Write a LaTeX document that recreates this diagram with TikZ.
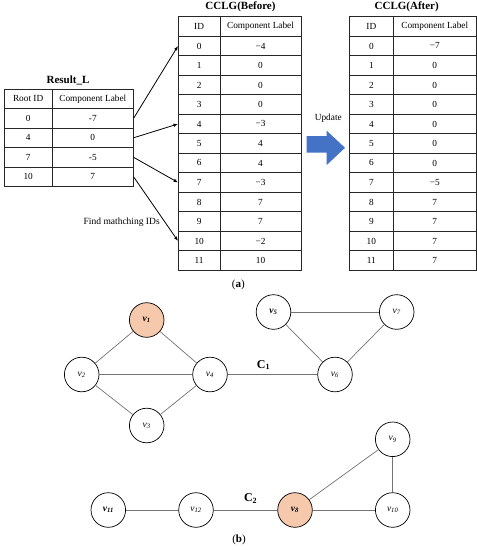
\documentclass[tikz,border=0pt]{standalone}
\usepackage{fontspec}
\setmainfont{Liberation Serif}
\usepackage{tikz}
\usetikzlibrary{arrows.meta,positioning}

\definecolor{peach}{RGB}{246,200,172}
\definecolor{updblue}{RGB}{68,114,196}

\tikzset{
  cell/.style={draw=black!85, line width=0.6pt, minimum height=19.5pt, inner sep=0pt, font=\fontsize{9.3}{11}\selectfont},
  ttl/.style={font=\fontsize{11}{13}\selectfont\bfseries},
  vtx/.style={circle, draw=black, line width=0.7pt, fill=white, minimum size=34.6pt, inner sep=0pt, font=\fontsize{9.5}{11}\selectfont},
  seed/.style={vtx, fill=peach},
  edge/.style={draw=black!55, line width=0.7pt},
  findarr/.style={line width=0.8pt, -{Latex[length=4.5pt,width=3.5pt]}}
}

\begin{document}
\begin{tikzpicture}[x=1pt,y=-1pt]
            \useasboundingbox (0,0) rectangle (477,550);
            % Result_L table
            \node[ttl] (resL) at (68,80.7) {Result\_L};
            \node[cell, minimum width=48.3pt] (Lhid) at (28.15,98.8) {Root ID};
            \node[cell, minimum width=81pt] (Lhlab) at (92.8,98.8) {Component Label};
            \foreach \id/\lab [count=\r from 1] in {0/-7,4/0,7/-5,10/7}
                {
                    \node[cell, minimum width=48.3pt] (Lid\id) at ({28.15},{98.8+19.5*\r}) {\id};
                    \node[cell, minimum width=81pt] (Lr\id) at ({92.8},{98.8+19.5*\r}) {\lab};
                }

            % CCLG before
            \node[ttl] (befT) at (240.5,6.5) {CCLG(Before)};
            \node[cell, minimum width=41.7pt] (Bhid) at (199.15,26.45) {ID};
            \node[cell, minimum width=81pt] (Bhlab) at (260.5,26.45) {Component Label};
            \foreach \id/\lab in {0/−4,1/0,2/0,3/0,4/−3,5/4,6/4,7/−3,8/7,9/7,10/−2,11/10}
                {
                    \node[cell, minimum width=41.7pt] (Bid\id) at ({199.15},{45.95+19.5*\id}) {\id};
                    \node[cell, minimum width=81pt] (Blab\id) at ({260.5},{45.95+19.5*\id}) {\lab};
                }

            % CCLG after
            \node[ttl] (aftT) at (406.7,6.5) {CCLG(After)};
            \node[cell, minimum width=43.3pt] (Ahid) at (371.35,26.45) {ID};
            \node[cell, minimum width=83.5pt] (Ahlab) at (434.75,26.45) {Component Label};
            \foreach \id/\lab in {0/−7,1/0,2/0,3/0,4/0,5/0,6/0,7/−5,8/7,9/7,10/7,11/7}
                {
                    \node[cell, minimum width=43.3pt] (Aid\id) at ({371.35},{45.95+19.5*\id}) {\id};
                    \node[cell, minimum width=83.5pt] (Alab\id) at ({434.75},{45.95+19.5*\id}) {\lab};
                }

            % Matching arrows
            \draw[findarr] (Lr0.east) -- (Bid0.west);
            \draw[findarr] (Lr4.east) -- (Bid4.west);
            \draw[findarr] (Lr7.east) -- (Bid7.west);
            \draw[findarr] (Lr10.east) -- (Bid10.west);
            \node[font=\fontsize{9.5}{11}\selectfont] (find) at (121.7,222) {Find mathching IDs};

            % Update arrow
            \fill[updblue] (306.7,136) -- (326.7,136) -- (326.7,130.7) -- (345,147.8) -- (326.7,165) -- (326.7,152.7) -- (306.7,152.7) -- cycle;
            \node[font=\fontsize{9.3}{11}\selectfont] (upd) at (328.3,118.3) {Update};

            \node[font=\fontsize{11}{13}\selectfont] (capA) at (238.3,284.5) {(\textbf{a})};

            % Graph C1
            \node[seed] (v1) at (146.7,320) {\textbf{\textit{v}\textsubscript{\textit{1}}}};
            \node[vtx] (v2) at (81.7,374.5) {\textit{v}\textsubscript{\textit{2}}};
            \node[vtx] (v3) at (146.7,425.5) {\textit{v}\textsubscript{\textit{3}}};
            \node[vtx] (v4) at (210,374.5) {\textit{v}\textsubscript{\textit{4}}};
            \node[vtx] (v5) at (273.5,312) {\textbf{\textit{v}\textsubscript{\textit{5}}}};
            \node[vtx] (v6) at (335,374.5) {\textit{v}\textsubscript{\textit{6}}};
            \node[vtx] (v7) at (396.7,312) {\textit{v}\textsubscript{\textit{7}}};
            \draw[edge] (v1) -- (v2);
            \draw[edge] (v1) -- (v4);
            \draw[edge] (v2) -- (v4);
            \draw[edge] (v2) -- (v3);
            \draw[edge] (v3) -- (v4);
            \draw[edge] (v5) -- (v7);
            \draw[edge] (v5) -- (v6);
            \draw[edge] (v6) -- (v7);
            \draw[edge] (v4) -- (v6) node[pos=0.4, above=1pt, text=black, font=\fontsize{12}{14}\selectfont\bfseries] (c1) {C\textsubscript{1}};

            % Graph C2
            \node[vtx] (v11) at (108.3,510) {\textbf{\textit{v}\textsubscript{\textit{11}}}};
            \node[vtx] (v12) at (196,510) {\textit{v}\textsubscript{\textit{12}}};
            \node[seed] (v8) at (295,510) {\textbf{\textit{v}\textsubscript{\textit{8}}}};
            \node[vtx] (v10) at (392.7,510) {\textit{v}\textsubscript{\textit{10}}};
            \node[vtx] (v9) at (392.7,439.3) {\textit{v}\textsubscript{\textit{9}}};
            \draw[edge] (v11) -- (v12);
            \draw[edge] (v8) -- (v10);
            \draw[edge] (v8) -- (v9);
            \draw[edge] (v9) -- (v10);
            \draw[edge] (v12) -- (v8) node[pos=0.58, above=3pt, text=black, font=\fontsize{12}{14}\selectfont\bfseries] (c2) {C\textsubscript{2}};

            \node[font=\fontsize{11}{13}\selectfont] (capB) at (239,540) {(\textbf{b})};

\end{tikzpicture}
\end{document}
